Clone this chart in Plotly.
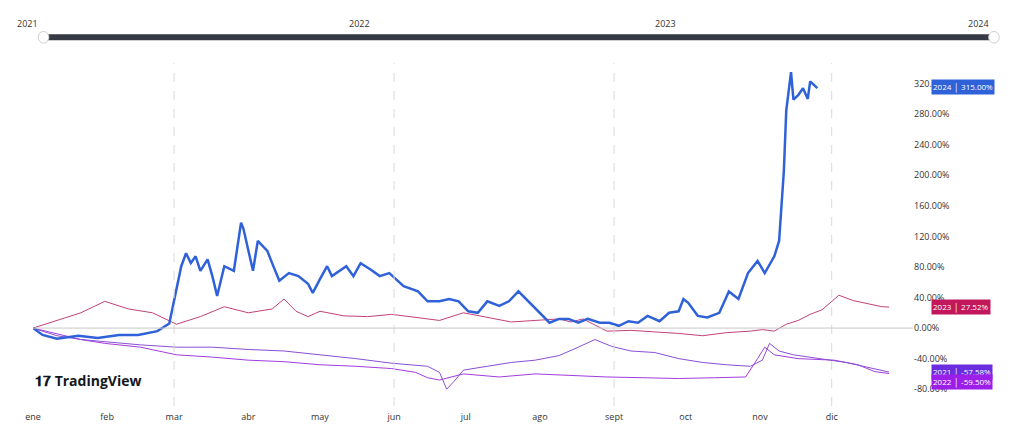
import plotly.graph_objects as go

# day-of-year, % change for each year's series
d2024 = [0, 4, 10, 19, 27, 36, 44, 52, 57, 59, 62, 64, 66, 68, 70, 73, 75, 77, 80, 84, 87, 88, 90, 92, 94, 98, 100, 103,
         107, 111, 115, 117, 120, 123, 125, 128, 131, 134, 137, 141, 145, 149, 155, 161, 165, 170, 174, 178, 182, 186,
         190, 195, 199, 203, 207, 211, 216, 220, 224, 228, 232, 237, 241, 245, 249, 253, 257, 262, 266, 270, 272, 274,
         278, 282, 287, 291, 295, 299, 303, 306, 310, 312, 314, 315, 316, 317, 318, 320, 322, 324, 325, 328]
v2024 = [0, -9, -14, -10, -13, -9, -9, -4, 6, 35, 81, 98, 85, 94, 75, 90, 68, 42, 81, 75, 138, 130, 101, 75, 114, 101, 85,
         62, 72, 68, 58, 46, 64, 81, 68, 75, 81, 68, 85, 77, 68, 72, 55, 48, 35, 35, 38, 35, 22, 20, 35, 29, 35, 48, 35,
         22, 7, 12, 12, 7, 12, 7, 7, 3, 9, 7, 16, 9, 20, 22, 38, 33, 16, 14, 20, 48, 38, 72, 88, 72, 94, 114, 206, 285,
         314, 335, 299, 305, 314, 300, 323, 314]

d2023 = [0, 10, 20, 30, 40, 50, 60, 70, 80, 90, 100, 105, 110, 115, 120, 130, 140, 150, 160, 170, 180, 190, 200, 210,
         220, 225, 230, 240, 250, 260, 270, 280, 290, 300, 305, 310, 315, 320, 325, 330, 337, 343, 350, 355, 358]
v2023 = [0, 10, 20, 35, 25, 20, 5, 15, 28, 20, 25, 38, 22, 15, 22, 16, 15, 18, 14, 10, 20, 14, 8, 10, 12, 8, 12, -4, -3,
         -5, -7, -10, -6, -4, -2, -4, 5, 10, 18, 24, 43, 36, 31, 28, 27.52]

d2021 = [0, 10, 20, 30, 45, 60, 75, 90, 105, 120, 135, 150, 165, 170, 173, 176, 180, 190, 200, 210, 220, 228, 235, 242,
         250, 260, 270, 280, 290, 300, 305, 308, 312, 318, 330, 340, 350, 358]
v2021 = [0, -10, -15, -18, -22, -25, -25, -28, -30, -35, -40, -46, -50, -58, -80, -70, -55, -50, -45, -42, -36, -25, -15,
         -24, -30, -32, -40, -45, -48, -50, -42, -20, -30, -35, -40, -45, -52, -57.58]

d2022 = [0, 10, 20, 30, 45, 60, 75, 90, 105, 120, 135, 150, 160, 165, 170, 180, 195, 210, 225, 240, 255, 270, 285, 298,
         303, 306, 310, 320, 335, 345, 352, 358]
v2022 = [0, -8, -15, -20, -25, -35, -38, -42, -44, -48, -50, -53, -58, -65, -68, -60, -64, -60, -62, -64, -65, -66, -65,
         -64, -40, -25, -35, -40, -42, -48, -57, -59.5]

months = ["ene", "feb", "mar", "abr", "may", "jun", "jul", "ago", "sept", "oct", "nov", "dic"]
month_days = [0, 31, 59, 90, 120, 151, 181, 212, 243, 273, 304, 334]
years = ["2021", "2022", "2023", "2024"]

fig = go.Figure()
fig.add_trace(go.Scatter(x=d2022, y=v2022, mode="lines", line=dict(color="#a23cde", width=1)))
fig.add_trace(go.Scatter(x=d2021, y=v2021, mode="lines", line=dict(color="#8a4fd6", width=1)))
fig.add_trace(go.Scatter(x=d2023, y=v2023, mode="lines", line=dict(color="#c2417a", width=1)))
fig.add_trace(go.Scatter(x=d2024, y=v2024, mode="lines", line=dict(color="#2f62d8", width=2.5)))

# quarterly dashed gridlines + zero line
for d in month_days[2::3]:
    fig.add_vline(x=d, line=dict(color="#d9d9d9", width=1, dash="dash"))
fig.add_hline(y=0, line=dict(color="#c8c8c8", width=1))

# year range slider look-alike
fig.add_shape(type="line", xref="paper", yref="paper", x0=0.012, x1=1.092, y0=1.075, y1=1.075,
              line=dict(color="#363a45", width=6))
for px in [0.012, 1.092]:
    fig.add_shape(type="circle", xref="paper", yref="paper", x0=px - 0.006, x1=px + 0.006, y0=1.058, y1=1.092,
                  line=dict(color="#d0d0d0", width=1), fillcolor="white")
for yr, px in zip(years, [-0.02, 0.371, 0.733, 1.089]):
    fig.add_annotation(text=yr, xref="paper", yref="paper", x=px, y=1.14, showarrow=False,
                       font=dict(size=9, color="#333"))

# last-value tags
tags = [("2024", "315.00%", 315, "#2f62d8"), ("2023", "27.52%", 27.52, "#c2185b"),
        ("2021", "-57.58%", -57.58, "#6a2ee0"), ("2022", "-59.50%", -71, "#9b1fe8")]
for name, val, y, c in tags:
    fig.add_annotation(text=f"{name} │ {val}", x=1.0, xref="paper", y=y, xanchor="left", showarrow=False,
                       bgcolor=c, font=dict(size=8, color="white"), borderpad=1, xshift=18)

fig.add_annotation(text="<b>𝟏𝟕 TradingView</b>", xref="paper", yref="paper", x=0.0, y=0.04, xanchor="left",
                   showarrow=False, font=dict(size=14, color="#131722"))

fig.update_layout(
    width=1024, height=426, margin=dict(l=25, r=119, t=55, b=28),
    paper_bgcolor="white", plot_bgcolor="white", showlegend=False,
    font=dict(family="Open Sans", size=9, color="#333"),
)
fig.update_xaxes(range=[0, 368], tickvals=month_days, ticktext=months, showgrid=False, zeroline=False,
                 ticklabelstandoff=4)
fig.update_yaxes(side="right", range=[-102, 347], tickvals=list(range(-80, 321, 40)),
                 ticktext=[f"{v}.00%" for v in range(-80, 321, 40)], showgrid=False, zeroline=False)

fig.write_html("out.html")
